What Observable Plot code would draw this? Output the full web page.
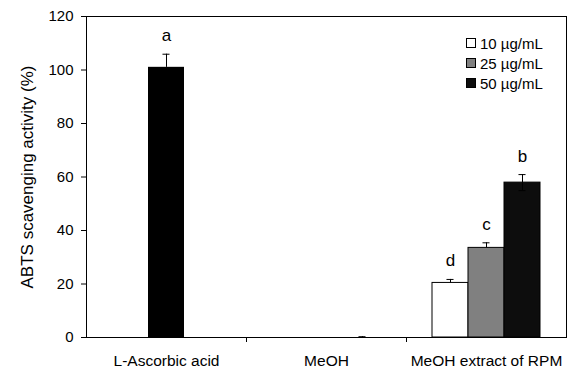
<!DOCTYPE html>
<html>
<head>
<meta charset="utf-8">
<script src="https://cdn.jsdelivr.net/npm/d3@7"></script>
<script src="https://cdn.jsdelivr.net/npm/@observablehq/plot@0.6"></script>
<style>
  body { margin: 0; background: #fff; }
  #wrap { position: relative; width: 573px; height: 371px; font-family: "Liberation Sans", Arial, sans-serif; }
  #legend { position: absolute; left: 466px; top: 33px; font-size: 15px; color: #000; }
  #legend .row { display: flex; align-items: center; height: 20px; }
  #legend .sw { width: 8px; height: 8px; border: 1px solid #000; margin-right: 4px; }
  #log { position: absolute; left: 100px; top: 120px; font-size: 11px; color: red; width: 400px; }
</style>
</head>
<body>
<div id="wrap"></div>
<div id="log"></div>
<script>
// ---- data ----
const categories = ["L-Ascorbic acid", "MeOH", "MeOH extract of RPM"];
const concentrations = ["10 µg/mL", "25 µg/mL", "50 µg/mL"];
const concColors = ["#ffffff", "#808080", "#0d0d0d"];
const ascorbicValues = [101.0];
const ascorbicErrors = [4.9];
const ascorbicLetters = ["a"];
const meohValues = [0, 0, 0];
const meohErrors = [0, 0, 0.3];
const meohLetters = ["", "", ""];
const rpmValues = [20.4, 33.5, 57.9];
const rpmErrors = [1.3, 1.9, 3.0];
const rpmLetters = ["d", "c", "b"];
const yTicks = [0, 20, 40, 60, 80, 100, 120];

const logEl = document.getElementById("log");
try {
// ---- build table ----
const barW = 0.225; // bar width in category units
const rows = [];
rows.push({cat: 0, off: 0, k: -1, value: ascorbicValues[0], err: ascorbicErrors[0], letter: ascorbicLetters[0]});
[[1, meohValues, meohErrors, meohLetters], [2, rpmValues, rpmErrors, rpmLetters]].forEach(([ci, vals, errs, lets]) => {
  vals.forEach((v, k) => rows.push({cat: ci, off: (k - 1) * barW, k, value: v, err: errs[k], letter: lets[k]}));
});
rows.forEach(d => { d.cx = d.cat + 0.5 + d.off; d.x1 = d.cx - barW / 2; d.x2 = d.cx + barW / 2; d.top = d.value + d.err; d.bot = Math.max(0, d.value - d.err); });
const withErr = rows.filter(d => d.err > 0);
const darkErr = withErr.filter(d => (d.k === -1 || d.k === 2) && d.value > d.err);
const capHalf = 0.022;
withErr.forEach(d => { d.c1 = d.cx - capHalf; d.c2 = d.cx + capHalf; });

const barMarks = [
  Plot.rectY(rows.filter(d => d.k === -1), {x1: "x1", x2: "x2", y1: 0, y2: "value", fill: "#000"}),
  ...concentrations.map((c, k) =>
    Plot.rectY(rows.filter(d => d.k === k && d.value > 0), {x1: "x1", x2: "x2", y1: 0, y2: "value", fill: concColors[k], stroke: "#000", strokeWidth: 1}))
];

const chart = Plot.plot({
  width: 573,
  height: 371,
  marginLeft: 86,
  marginRight: 7,
  marginTop: 16,
  marginBottom: 34,
  style: {fontFamily: "Liberation Sans, Arial, sans-serif", fontSize: "15px", color: "#000", background: "#fff", overflow: "visible"},
  x: {type: "linear", domain: [0, 3]},
  y: {type: "linear", domain: [0, 120]},
  marks: [
    ...barMarks,
    Plot.ruleX(withErr, {x: "cx", y1: "value", y2: "top", stroke: "#000", strokeWidth: 1}),
    Plot.ruleX(darkErr, {x: "cx", y1: "bot", y2: "value", stroke: "#000", strokeWidth: 1}),
    Plot.ruleY(withErr, {x1: "c1", x2: "c2", y: "top", stroke: "#000"}),
    Plot.ruleY(darkErr.filter(d => d.k === 2), {x1: "c1", x2: "c2", y: "bot", stroke: "#000"}),
    Plot.text(rows.filter(d => d.letter), {x: "cx", y: "top", text: "letter", lineAnchor: "bottom", dy: -13, fontSize: 17, fill: "#000"}),
    Plot.axisY({ticks: yTicks, tickSize: 5, tickPadding: 8, fontSize: 15, label: null}),
    Plot.axisY({ticks: [], tickSize: 0, fontSize: 17, label: "ABTS scavenging activity (%)", labelAnchor: "center", labelArrow: "none", labelOffset: 66}),
    Plot.axisX({ticks: [1, 2], tickSize: 5, tickFormat: () => "", label: null}),
    Plot.axisX({ticks: [0.5, 1.5, 2.5], tickSize: 0, tickPadding: 17, fontSize: 15.5, tickFormat: d => categories[Math.floor(d)], label: null}),
    Plot.frame({stroke: "#000", strokeWidth: 1})
  ]
});
document.getElementById("wrap").appendChild(chart);

// legend overlay
const legend = document.createElement("div");
legend.id = "legend";
concentrations.forEach((c, i) => {
  const row = document.createElement("div");
  row.className = "row";
  const sw = document.createElement("span");
  sw.className = "sw";
  sw.style.background = concColors[i];
  const t = document.createElement("span");
  t.textContent = c;
  row.appendChild(sw); row.appendChild(t);
  legend.appendChild(row);
});
document.getElementById("wrap").appendChild(legend);
} catch (e) { logEl.textContent += " ERR: " + e.message; }
</script>
</body>
</html>
